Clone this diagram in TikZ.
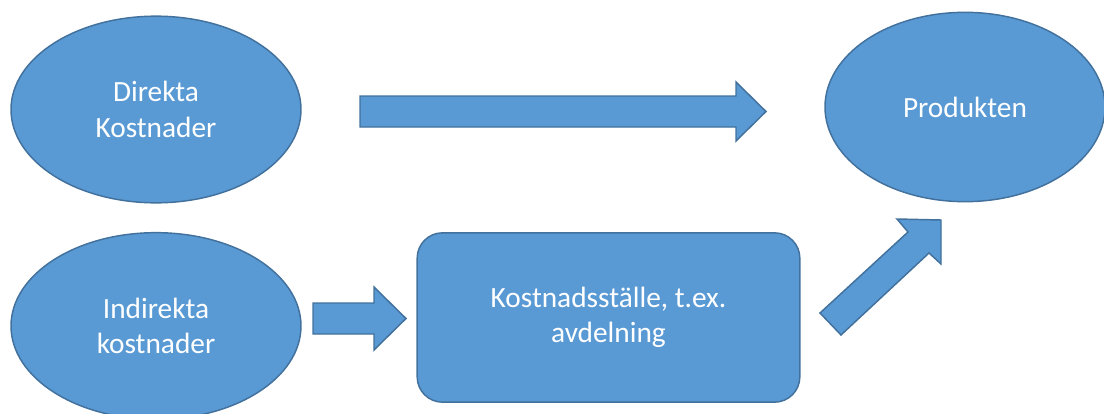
\documentclass[tikz,border=0pt]{standalone}
\usepackage{fontspec}
\setmainfont{Carlito}
\usetikzlibrary{shapes.geometric}

\definecolor{costfill}{RGB}{90,154,212}
\definecolor{costline}{RGB}{65,113,156}
\tikzset{every picture/.style={line width=0.75pt}}
\tikzset{
  costellipse/.style={ellipse, draw=costline, fill=costfill, line width=1.1pt, inner sep=0.75pt,
    text=white, align=center, font=\fontsize{22}{26.5}\selectfont},
  costbox/.style={rectangle, rounded corners=19pt, draw=costline, fill=costfill, line width=1.1pt,
    minimum width=287pt, minimum height=127pt, text=white, align=center, font=\fontsize{22}{26.5}\selectfont},
  blockarrow/.style={draw=costline, fill=costfill, line width=1.1pt, line join=miter}
}

\begin{document}
\begin{tikzpicture}[x=0.75pt,y=0.75pt,yscale=-1,xscale=1]
\useasboundingbox (0,0) rectangle (1104,414); %diagram is 1104 wide and 414 high

%Shape: Ellipse
\node [costellipse, minimum width=217.5pt, minimum height=140pt] (direkta) at (156,109.5) {Direkta\\Kostnader};
%Shape: Ellipse
\node [costellipse, minimum width=217.5pt, minimum height=140pt] (indirekta) at (156,326) {Indirekta\\kostnader};
%Shape: Ellipse
\node [costellipse, minimum width=210pt, minimum height=142pt] (produkten) at (965,107) {Produkten};
%Rounded Rect
\node [costbox] (stalle) at (608.5,317.5) {Kostnadsställe, t.ex.\\avdelning};

%Right Arrow
\draw [blockarrow] (360,96) -- (736,96) -- (736,82) -- (766,111.5) -- (736,141) -- (736,127) -- (360,127) -- cycle ;
%Right Arrow
\draw [blockarrow] (313,303) -- (374,303) -- (374,287) -- (406,318.5) -- (374,350) -- (374,334) -- (313,334) -- cycle ;
%Up Right Arrow
\draw [blockarrow] (820,313) -- (908,232) -- (897,219) -- (941,220) -- (941,264) -- (929,253) -- (841,335) -- cycle ;

\end{tikzpicture}
\end{document}
